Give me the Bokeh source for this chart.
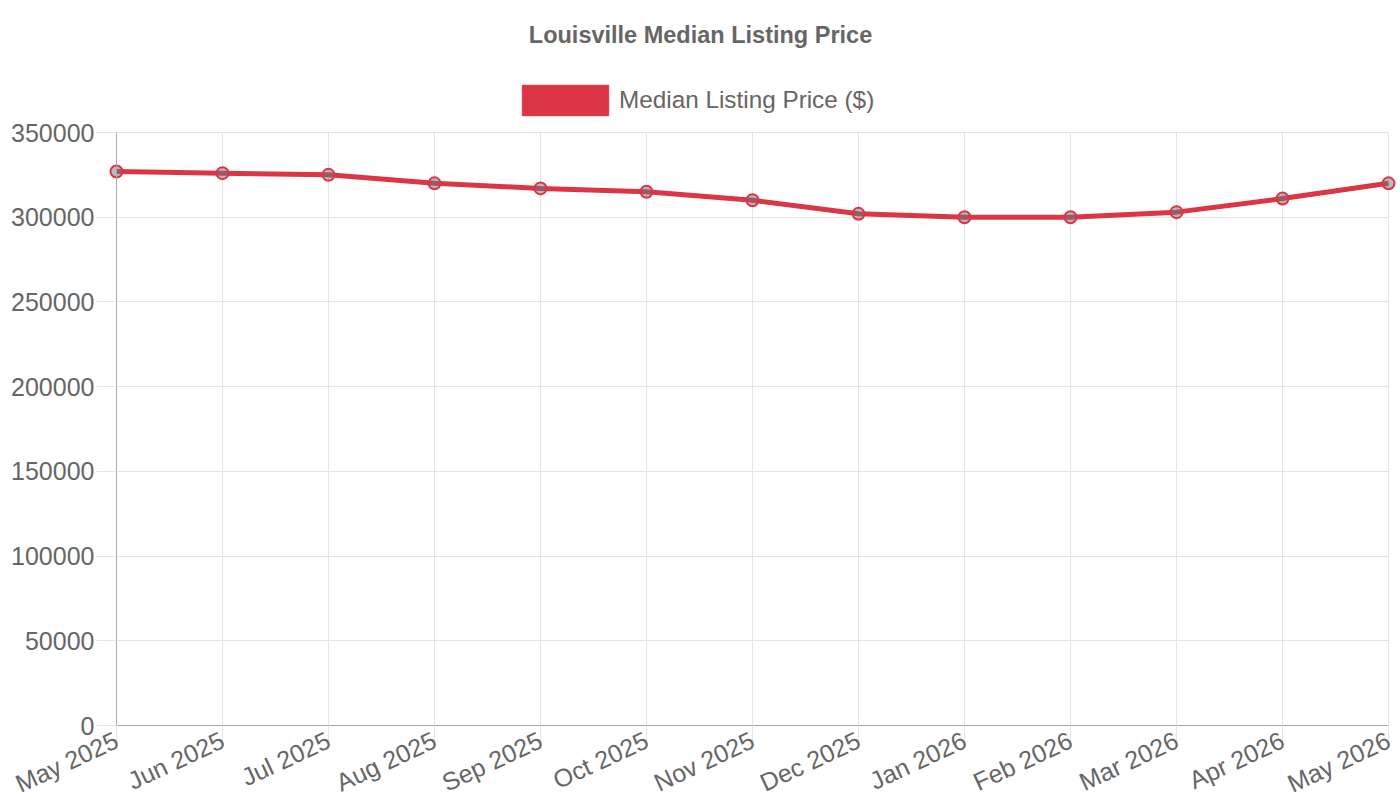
import math
from bokeh.plotting import figure
from bokeh.models import (ColumnDataSource, FixedTicker, Legend, LegendItem, Label,
                          NumeralTickFormatter)
from bokeh.embed import file_html
from bokeh.resources import INLINE

months = ["May 2025", "Jun 2025", "Jul 2025", "Aug 2025", "Sep 2025", "Oct 2025",
          "Nov 2025", "Dec 2025", "Jan 2026", "Feb 2026", "Mar 2026", "Apr 2026",
          "May 2026"]
median_price = [327000, 326000, 325000, 320000, 317000, 315000, 310000,
                302000, 300000, 300000, 303000, 311000, 320000]
y_ticks = [0, 50000, 100000, 150000, 200000, 250000, 300000, 350000]
y_max = 350000
chart_title = "Louisville Median Listing Price"
series_name = "Median Listing Price ($)"

RED = "#dc3545"
TEXT = "#666666"
GRID = "#e5e5e5"
AXIS = "#aaaaaa"
FONT = "Liberation Sans"

# canvas geometry (px): the frame covers the whole canvas and the axes are
# pinned at x=0 / y=0 so their labels stay inside it
W, H = 1400, 800
PLOT_L, PLOT_R, PLOT_T, PLOT_B = 116, 1388, 132, 725

n = len(months)
px_per_x = (PLOT_R - PLOT_L) / (n - 1)
px_per_y = (PLOT_B - PLOT_T) / y_max
x_range = (-PLOT_L / px_per_x, (W - PLOT_L) / px_per_x)
y_range = (-(H - PLOT_B) / px_per_y, PLOT_B / px_per_y)

idx = list(range(n))
src = ColumnDataSource(dict(x=idx, y=median_price))

p = figure(width=W, height=H, output_backend="svg", toolbar_location=None,
           x_range=x_range, y_range=y_range, min_border=0)
p.outline_line_color = None
p.background_fill_color = "white"

p.line("x", "y", source=src, line_color=RED, line_width=5)
p.scatter("x", "y", source=src, size=12, fill_color="#6c757d", fill_alpha=0.5,
          line_color=RED, line_width=2)

for ax in (p.xaxis[0], p.yaxis[0]):
    ax.fixed_location = 0
    ax.axis_line_color = AXIS
    ax.axis_line_width = 1
    ax.major_tick_line_color = GRID
    ax.major_tick_in = 0
    ax.major_tick_out = 20
    ax.minor_tick_line_color = None
    ax.major_label_text_font = FONT
    ax.major_label_text_font_size = "25px"
    ax.major_label_text_color = TEXT

p.yaxis.bounds = (0, y_max)
p.yaxis.ticker = FixedTicker(ticks=y_ticks)
p.yaxis.formatter = NumeralTickFormatter(format="0")
p.yaxis.major_label_standoff = 2

p.xaxis.bounds = (0, n - 1)
p.xaxis.ticker = FixedTicker(ticks=idx)
p.xaxis.major_label_overrides = {i: m for i, m in enumerate(months)}
p.xaxis.major_label_orientation = math.radians(25)
p.xaxis.major_label_standoff = -7

p.xgrid.ticker = FixedTicker(ticks=idx)
p.ygrid.ticker = FixedTicker(ticks=y_ticks)
p.xgrid.bounds = (0, n - 1)
p.ygrid.bounds = (0, y_max)
p.xgrid.cross_bounds = (0, y_max)
p.ygrid.cross_bounds = (0, n - 1)
p.grid.grid_line_color = GRID
p.grid.grid_line_width = 1

# title (screen units run from the frame's bottom-left)
p.add_layout(Label(x=W / 2, y=H - 34, x_units="screen", y_units="screen",
                   text=chart_title, text_align="center", text_baseline="middle",
                   text_font=FONT, text_font_size="23.5px", text_font_style="bold",
                   text_color=TEXT))

# legend swatch: a quad renderer with no drawable row, used only for its fill;
# area swatches are inset 10% per side, so the glyph box is sized up to match
swatch = p.quad(left=[float("nan")], right=[float("nan")], top=[float("nan")],
                bottom=[float("nan")], fill_color=RED, line_color=RED)
legend = Legend(items=[LegendItem(label=series_name, renderers=[swatch])],
                location=(511, H - 119), orientation="horizontal",
                glyph_width=108, glyph_height=38, label_height=38,
                label_text_font=FONT, label_text_font_size="24.3px",
                label_text_color=TEXT, label_text_baseline="middle",
                border_line_color=None, background_fill_alpha=0,
                padding=0, margin=0, label_standoff=0)
p.add_layout(legend)

open("out.html", "w").write(file_html(p, INLINE))
